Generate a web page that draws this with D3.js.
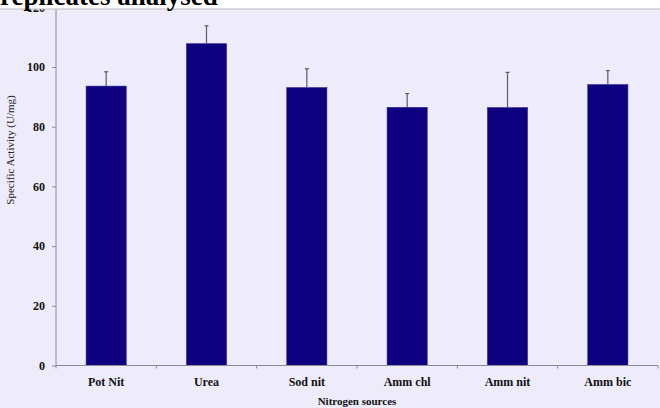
<!DOCTYPE html>
<html>
<head>
<meta charset="utf-8">
<script src="https://cdn.jsdelivr.net/npm/d3@7"></script>
<style>
  body { margin: 0; background: #ffffff; }
  svg { display: block; }
</style>
</head>
<body>
<div id="chart"></div>
<script>
// values
const categories = ["Pot Nit", "Urea", "Sod nit", "Amm chl", "Amm nit", "Amm bic"];
const means = [93.6, 107.8, 93.1, 86.5, 86.4, 94.1];
const errors = [4.8, 6.0, 6.3, 4.6, 11.8, 4.7];
const yTicks = [0, 20, 40, 60, 80, 100, 120];

const width = 660, height = 408;
const margin = { top: 7.3, right: 2, bottom: 42.5, left: 56 };

const svg = d3.select("#chart").append("svg")
    .attr("width", width)
    .attr("height", height);

// lavender panel
svg.append("rect")
    .attr("x", 0).attr("y", 0)
    .attr("width", width).attr("height", height)
    .attr("fill", "#eeebfb");

const x = d3.scaleBand()
    .domain(categories)
    .range([margin.left, width - margin.right])
    .paddingInner(0.6)
    .paddingOuter(0.3);

const y = d3.scaleLinear()
    .domain([0, 120])
    .range([height - margin.bottom, margin.top]);

const data = categories.map((c, i) => ({ cat: c, mean: means[i], err: errors[i] }));

// bars
svg.selectAll(".bar")
    .data(data)
    .join("rect")
    .attr("class", "bar")
    .attr("x", d => x(d.cat))
    .attr("y", d => y(d.mean))
    .attr("width", x.bandwidth())
    .attr("height", d => y(0) - y(d.mean))
    .attr("fill", "#0f0080")
    .attr("stroke", "#2a2a8c")
    .attr("stroke-width", 0.6);

// error bars (upper only)
const eb = svg.selectAll(".err")
    .data(data)
    .join("g")
    .attr("class", "err")
    .attr("stroke", "#5a5a6a")
    .attr("stroke-width", 1.2);

eb.append("line")
    .attr("x1", d => x(d.cat) + x.bandwidth() / 2)
    .attr("x2", d => x(d.cat) + x.bandwidth() / 2)
    .attr("y1", d => y(d.mean))
    .attr("y2", d => y(d.mean + d.err));

eb.append("line")
    .attr("x1", d => x(d.cat) + x.bandwidth() / 2 - 2)
    .attr("x2", d => x(d.cat) + x.bandwidth() / 2 + 2)
    .attr("y1", d => y(d.mean + d.err))
    .attr("y2", d => y(d.mean + d.err));

// y axis
const yAxis = svg.append("g")
    .attr("transform", `translate(${margin.left},0)`)
    .call(d3.axisLeft(y).tickValues(yTicks).tickSize(4).tickPadding(7));
yAxis.select(".domain").attr("stroke", "#8a8a9a").attr("d", `M0,${y(0)}V0`);
yAxis.selectAll(".tick line").attr("stroke", "#8a8a9a");
yAxis.selectAll("text")
    .style("font-family", "'Liberation Serif', 'DejaVu Serif', serif")
    .style("font-weight", "bold")
    .style("font-size", "12px")
    .attr("fill", "#111");

// x axis: ticks at category boundaries
const step = x.step();
const xAxisG = svg.append("g");
xAxisG.append("line")
    .attr("x1", margin.left).attr("x2", width - margin.right)
    .attr("y1", y(0)).attr("y2", y(0))
    .attr("stroke", "#8a8a9a");
xAxisG.selectAll(".xt")
    .data(d3.range(categories.length + 1))
    .join("line")
    .attr("class", "xt")
    .attr("x1", i => margin.left + i * step)
    .attr("x2", i => margin.left + i * step)
    .attr("y1", y(0)).attr("y2", y(0) + 3)
    .attr("stroke", "#8a8a9a");

xAxisG.selectAll(".xl")
    .data(categories)
    .join("text")
    .attr("class", "xl")
    .attr("x", d => x(d) + x.bandwidth() / 2)
    .attr("y", y(0) + 20)
    .attr("text-anchor", "middle")
    .style("font-family", "'Liberation Serif', 'DejaVu Serif', serif")
    .style("font-weight", "bold")
    .style("font-size", "12px")
    .attr("fill", "#111")
    .text(d => d);

// axis titles
svg.append("text")
    .attr("x", (margin.left + width - margin.right) / 2)
    .attr("y", 405)
    .attr("text-anchor", "middle")
    .style("font-family", "'Liberation Serif', 'DejaVu Serif', serif")
    .style("font-weight", "bold")
    .style("font-size", "11px")
    .attr("fill", "#111")
    .text("Nitrogen sources");

svg.append("text")
    .attr("transform", "translate(14,150) rotate(-90)")
    .attr("text-anchor", "middle")
    .style("font-family", "'Liberation Serif', 'DejaVu Serif', serif")
    .style("font-size", "11px")
    .attr("fill", "#222")
    .text("Specific Activity (U/mg)");

// white strip with the cut-off caption on top
svg.append("rect")
    .attr("x", 0).attr("y", 0)
    .attr("width", width).attr("height", 9)
    .attr("fill", "#ffffff");
svg.append("line")
    .attr("x1", 0).attr("x2", width)
    .attr("y1", 9).attr("y2", 9)
    .attr("stroke", "#bbb");
svg.append("text")
    .attr("x", 0)
    .attr("y", 5)
    .style("font-family", "'Liberation Serif', 'DejaVu Serif', serif")
    .style("font-weight", "bold")
    .style("font-size", "27px")
    .attr("fill", "#000")
    .text("replicates analysed");
</script>
</body>
</html>
